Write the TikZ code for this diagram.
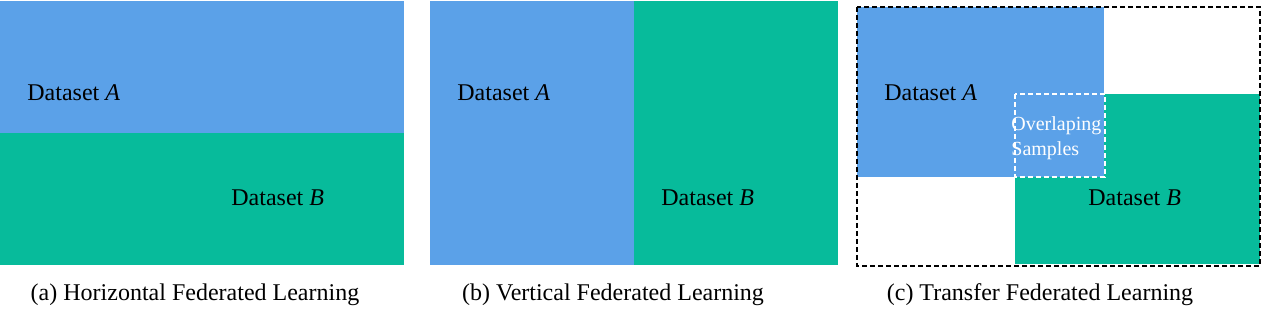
\documentclass[tikz,border=0pt]{standalone}
\usepackage{fontspec}
\setmainfont{Liberation Serif}
\usetikzlibrary{positioning}
\definecolor{datablue}{RGB}{91,161,232}
\definecolor{datagreen}{RGB}{7,187,155}
\tikzset{
  label/.style={font=\fontsize{12}{14}\selectfont,inner sep=0pt,anchor=west},
  caption/.style={font=\fontsize{12}{14}\selectfont,inner sep=0pt},
  overlap/.style={draw=white,dash pattern=on 2.5pt off 1.5pt,line width=0.6pt},
  frame/.style={draw=black,dash pattern=on 2.5pt off 1.5pt,line width=0.6pt},
  smalltext/.style={font=\fontsize{10}{12.5}\selectfont,text=white,inner sep=0pt,
    anchor=west,align=left}
}

\begin{document}
\begin{tikzpicture}[x=0.5pt,y=-0.5pt]
  \useasboundingbox[fill=white] (0,0) rectangle (1262,324);

  % Panel a
  \fill[datablue] (0,1) rectangle (404,133);
  \fill[datagreen] (0,133) rectangle (404,265);
  \node[label] (hA) at (27,93) {Dataset \textit{A}};
  \node[label] (hB) at (231,198) {Dataset \textit{B}};
  \node[caption] (hcap) at (195,295) {(a) Horizontal Federated Learning};

  % Panel b
  \fill[datablue] (430,1) rectangle (634,265);
  \fill[datagreen] (634,1) rectangle (838,265);
  \node[label] (vA) at (457,93) {Dataset \textit{A}};
  \node[label] (vB) at (661,198) {Dataset \textit{B}};
  \node[caption] (vcap) at (613,295) {(b) Vertical Federated Learning};

  % Panel c
  \fill[datablue] (857,7) rectangle (1104,177);
  \fill[datagreen] (1015,94) rectangle (1260,264);
  \fill[datablue] (1015,94) rectangle (1104,177);
  \draw[frame] (857,7) rectangle (1260,266);
  \draw[overlap] (1015,94) rectangle (1105,177);
  \node[label] (tA) at (884,93) {Dataset \textit{A}};
  \node[label] (tB) at (1088,198) {Dataset \textit{B}};
  \node[smalltext] (tover) at (1011,138) {Overlaping\\Samples};
  \node[caption] (tcap) at (1040,295) {(c) Transfer Federated Learning};
\end{tikzpicture}
\end{document}
